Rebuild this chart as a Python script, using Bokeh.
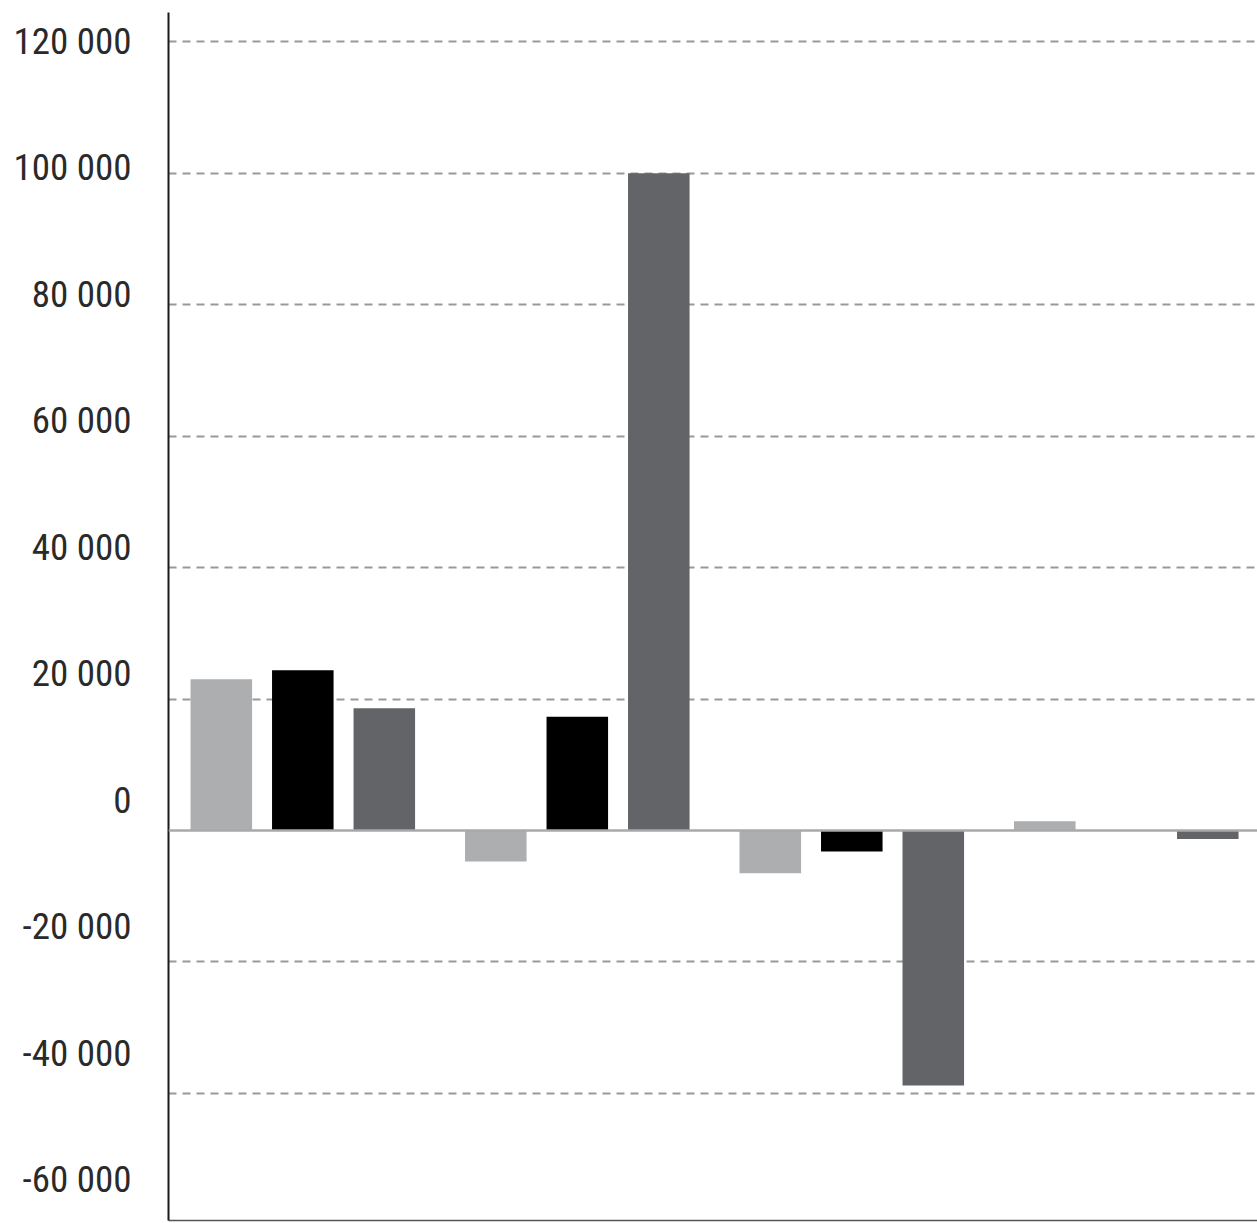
from bokeh.plotting import figure
from bokeh.models import Range1d, LinearAxis, FixedTicker, Span, ColumnDataSource
from bokeh.embed import file_html
from bokeh.resources import INLINE

# ---- data ----
groups = ["1", "2", "3", "4"]
light_vals = [23000, -4700, -6500, 1400]
black_vals = [24400, 17300, -3200, 0]
dark_vals = [18600, 100000, -38800, -1300]
series_colors = ["#adaeb0", "#000000", "#636467"]
y_ticks = [-60000, -40000, -20000, 0, 20000, 40000, 60000, 80000, 100000, 120000]
y_tick_labels = ["-60 000", "-40 000", "-20 000", "0", "20 000", "40 000",
                 "60 000", "80 000", "100 000", "120 000"]

GROUP_GAP = 0.368
BAR_WIDTH = 0.755

xs, tops, cols = [], [], []
for g, _ in enumerate(groups):
    for s, vals in enumerate([light_vals, black_vals, dark_vals]):
        xs.append(g * (3 + GROUP_GAP) + s)
        tops.append(vals[g])
        cols.append(series_colors[s])
src = ColumnDataSource(dict(x=xs, top=tops, color=cols))

p = figure(width=1257, height=1223,
           x_range=Range1d(-0.648, 12.714), y_range=Range1d(-59340, 124460),
           output_backend="svg", toolbar_location=None,
           y_axis_location=None,
           min_border_left=168, min_border_right=0, min_border_top=12, min_border_bottom=3)
p.outline_line_color = None
p.background_fill_color = "white"

# label axis (the reference's labels sit on a slightly tighter spacing than its grid)
p.extra_y_ranges = {"lab": Range1d(-66490, 124590)}
ax = LinearAxis(y_range_name="lab", ticker=FixedTicker(ticks=y_ticks),
                major_label_overrides={t: l for t, l in zip(y_ticks, y_tick_labels)})
ax.major_tick_out = 0
ax.major_tick_in = 0
ax.minor_tick_out = 0
ax.minor_tick_in = 0
ax.major_label_standoff = 37
ax.major_label_text_font = "'Roboto Condensed', 'DejaVu Sans Condensed', 'Open Sans Condensed', 'Liberation Sans'"
ax.major_label_text_font_size = "37px"
ax.major_label_text_color = "#2a2a2a"
ax.axis_line_color = "#1a1a1a"
ax.axis_line_width = 2
p.add_layout(ax, "left")

# bottom border line only
p.xaxis.ticker = FixedTicker(ticks=[])
p.xaxis.major_tick_out = 0
p.xaxis.major_tick_in = 0
p.xaxis.minor_tick_out = 0
p.xaxis.minor_tick_in = 0
p.xaxis.axis_line_color = "#555555"
p.xaxis.axis_line_width = 1.5

p.xgrid.visible = False
p.ygrid.ticker = FixedTicker(ticks=[t for t in y_ticks if t != 0])
p.ygrid.grid_line_color = "#999999"
p.ygrid.grid_line_width = 2
p.ygrid.grid_line_dash = "8 6"

p.vbar(x="x", top="top", bottom=0, width=BAR_WIDTH, fill_color="color",
       line_color=None, source=src)

p.add_layout(Span(location=0, dimension="width", line_color="#a9a9a9", line_width=2.5))

open("out.html", "w").write(file_html(p, INLINE))
